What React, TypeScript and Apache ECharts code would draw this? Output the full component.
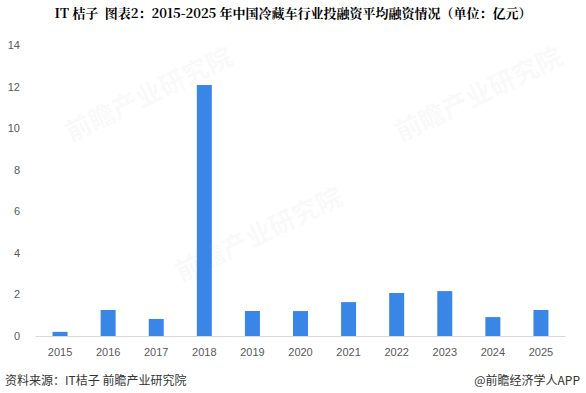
import React, { useEffect, useRef } from "react";
import * as echarts from "echarts";

const years = ["2015", "2016", "2017", "2018", "2019", "2020", "2021", "2022", "2023", "2024", "2025"];
const avgFinancing = [0.2, 1.25, 0.82, 12.07, 1.2, 1.2, 1.63, 2.07, 2.16, 0.91, 1.25];
const titleText = "IT 桔子  图表2：2015-2025 年中国冷藏车行业投融资平均融资情况（单位：亿元）";
const sourceText = "资料来源：IT桔子 前瞻产业研究院";
const brandText = "@前瞻经济学人APP";

export default function App() {
  const ref = useRef<HTMLDivElement>(null);
  useEffect(() => {
    if (!ref.current) return;
    const chart = echarts.init(ref.current, null, { renderer: "svg" });
    const wm = (x: number, y: number) => ({
      type: "text",
      x,
      y,
      rotation: Math.PI / 7,
      silent: true,
      style: {
        text: "前瞻产业研究院",
        fill: "rgba(200,200,200,0.1)",
        font: "bold 26px 'Noto Sans CJK SC', sans-serif",
      },
    });
    chart.setOption({
      animation: false,
      backgroundColor: "#ffffff",
      grid: { left: 36, right: 21, top: 45, bottom: 57 },
      xAxis: {
        type: "category",
        data: years,
        axisLine: { lineStyle: { color: "#d9d9d9" } },
        axisTick: { show: false },
        axisLabel: { color: "#595959", fontSize: 11, margin: 10, fontFamily: "Liberation Sans, Arial, sans-serif" },
      },
      yAxis: {
        type: "value",
        min: 0,
        max: 14,
        interval: 2,
        axisLine: { show: false },
        axisTick: { show: false },
        splitLine: { show: false },
        axisLabel: { color: "#595959", fontSize: 11, margin: 16, fontFamily: "Liberation Sans, Arial, sans-serif" },
      },
      series: [
        {
          type: "bar",
          data: avgFinancing,
          barWidth: 15,
          itemStyle: { color: "#3A86E6" },
        },
      ],
      graphic: [
        wm(60, 120),
        wm(390, 120),
        wm(170, 260),
        {
          type: "text",
          left: "center",
          top: 6,
          style: {
            text: titleText,
            fill: "#000000",
            font: "bold 13px 'Noto Serif CJK SC', 'Noto Sans CJK SC', serif",
          },
        },
        {
          type: "text",
          left: 5,
          top: 373,
          style: {
            text: sourceText,
            fill: "#333333",
            font: "12px 'Noto Sans CJK SC', sans-serif",
          },
        },
        {
          type: "text",
          right: 6,
          top: 373,
          style: {
            text: brandText,
            fill: "#333333",
            font: "12px 'Noto Sans CJK SC', sans-serif",
          },
        },
      ],
    });
    return () => chart.dispose();
  }, []);
  return <div ref={ref} style={{ width: 586, height: 393, position: "fixed", left: 0, top: 0 }} />;
}
